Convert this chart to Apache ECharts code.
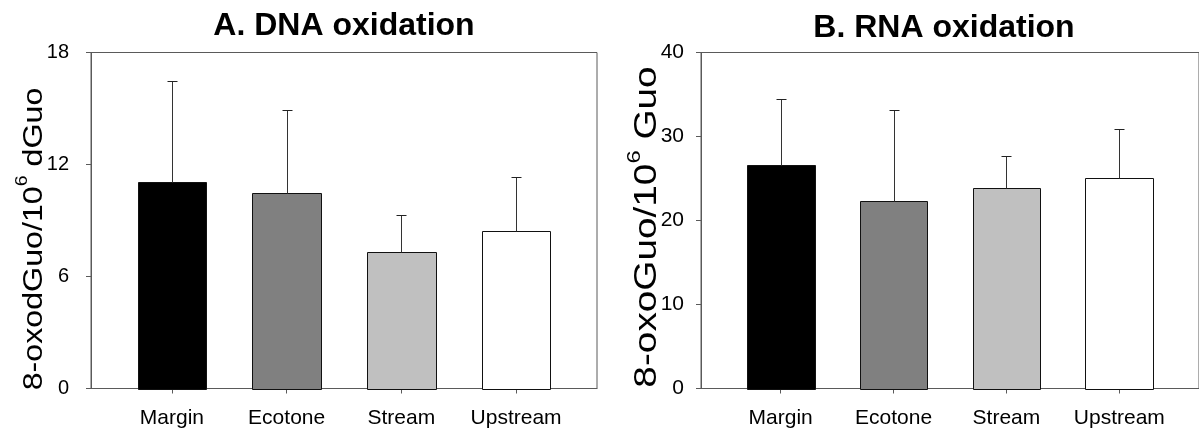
<!DOCTYPE html>
<html>
<head>
<meta charset="utf-8">
<script src="https://cdn.jsdelivr.net/npm/echarts@6/dist/echarts.min.js"></script>
<style>
  html, body { margin: 0; padding: 0; background: #fff; }
  #chart { width: 1199px; height: 434px; }
</style>
</head>
<body>
<div id="chart"></div>
<script>
// Sampling sites
const categories = ['Margin', 'Ecotone', 'Stream', 'Upstream'];

// A. DNA oxidation: mean and upper error (8-oxodGuo per 10^6 dGuo)
const dnaMean = [11.06, 10.5, 7.3, 8.45];
const dnaError = [5.42, 4.41, 2.0, 2.88];

// B. RNA oxidation: mean and upper error (8-oxoGuo per 10^6 Guo)
const rnaMean = [26.57, 22.28, 23.83, 25.06];
const rnaError = [7.85, 10.82, 3.81, 5.79];

// y-axis ranges
const dnaTicks = { min: 0, max: 18, interval: 6 };
const rnaTicks = { min: 0, max: 40, interval: 10 };

const barFills = ['#000000', '#808080', '#c0c0c0', '#ffffff'];
const FONT = "'Liberation Sans', Arial, Helvetica, sans-serif";
const axisGray = '#5a5a5a';

function seriesData(means, errors) {
  return means.map((m, i) => [i, m, m + errors[i]]);
}

const crisp = v => Math.round(v) + 0.5;

function renderBar(params, api) {
  const i = api.value(0);
  const mean = api.value(1);
  const upper = api.value(2);
  const base = api.coord([i, 0]);
  const top = api.coord([i, mean]);
  const err = api.coord([i, upper]);
  const w = api.size([0.6, 0])[0];
  const xl = crisp(base[0] - w / 2);
  const xr = crisp(base[0] + w / 2);
  const yt = crisp(top[1]);
  const yb = crisp(base[1]);
  const xc = crisp(base[0]);
  const ye = crisp(err[1]);
  const cap = 5;
  return {
    type: 'group',
    children: [
      {
        type: 'rect',
        shape: { x: xl, y: yt, width: xr - xl, height: yb - yt },
        style: { fill: barFills[i], stroke: '#111', lineWidth: 1 }
      },
      {
        type: 'line',
        shape: { x1: xc, y1: yt, x2: xc, y2: ye },
        style: { stroke: '#333', lineWidth: 1 }
      },
      {
        type: 'line',
        shape: { x1: xc - cap, y1: ye, x2: xc + cap, y2: ye },
        style: { stroke: '#222', lineWidth: 1 }
      }
    ]
  };
}

function xAxisFor(gridIndex) {
  return {
    type: 'value',
    gridIndex: gridIndex,
    min: -0.7056,
    max: 3.7056,
    splitLine: { show: false },
    axisLine: { show: true, onZero: false, lineStyle: { color: axisGray, width: 1 } },
    axisTick: { show: true, length: 5, customValues: [0, 1, 2, 3], lineStyle: { color: axisGray } },
    axisLabel: {
      customValues: [0, 1, 2, 3],
      formatter: v => categories[Math.round(v)],
      color: '#000',
      fontFamily: FONT,
      fontSize: 21,
      margin: 19
    }
  };
}

function yAxisFor(gridIndex, ticks, labelMargin, fontSize) {
  return {
    type: 'value',
    gridIndex: gridIndex,
    min: ticks.min,
    max: ticks.max,
    interval: ticks.interval,
    splitLine: { show: false },
    axisLine: { show: true, onZero: false, lineStyle: { color: axisGray, width: 1 } },
    axisTick: { show: true, length: 5, lineStyle: { color: axisGray } },
    axisLabel: {
      color: '#000',
      fontFamily: FONT,
      fontSize: fontSize,
      margin: labelMargin
    }
  };
}

// Vertical axis title with a superscript exponent, stretched slightly along its length
function axisNameText(x, y, main, tail, size, stretch) {
  return {
    type: 'text',
    x: x,
    y: y,
    rotation: Math.PI / 2,
    scaleX: stretch,
    style: {
      text: '{m|' + main + '}{s|6}{m|' + tail + '}',
      align: 'center',
      verticalAlign: 'middle',
      rich: {
        m: { fontFamily: FONT, fontSize: size, fill: '#000', lineHeight: size + 6, verticalAlign: 'bottom' },
        s: { fontFamily: FONT, fontSize: Math.round(size * 0.62), fill: '#000', lineHeight: size + 6, verticalAlign: 'top' }
      }
    }
  };
}

const chart = echarts.init(document.getElementById('chart'), null, { renderer: 'canvas' });

chart.setOption({
  animation: false,
  backgroundColor: '#fff',
  title: [
    {
      text: 'A. DNA oxidation',
      left: 344,
      top: 10,
      padding: 0,
      textAlign: 'center',
      textStyle: { fontFamily: FONT, fontWeight: 'bold', fontSize: 32, color: '#000' }
    },
    {
      text: 'B. RNA oxidation',
      left: 944,
      top: 12,
      padding: 0,
      textAlign: 'center',
      textStyle: { fontFamily: FONT, fontWeight: 'bold', fontSize: 32, color: '#000' }
    }
  ],
  grid: [
    { left: 91, right: 602, top: 52.5, bottom: 45.5, show: true, borderColor: axisGray, borderWidth: 1, backgroundColor: 'transparent' },
    { left: 701, right: -9, top: 52.5, bottom: 45.5, show: true, borderColor: axisGray, borderWidth: 1, backgroundColor: 'transparent' }
  ],
  xAxis: [xAxisFor(0), xAxisFor(1)],
  yAxis: [yAxisFor(0, dnaTicks, 22, 20), yAxisFor(1, rnaTicks, 17, 21)],
  graphic: [
    axisNameText(31, 239, '8-oxodGuo/10', ' dGuo', 28, 1.15),
    axisNameText(644, 227, '8-oxoGuo/10', ' Guo', 31, 1.25)
  ],
  series: [
    {
      type: 'custom',
      xAxisIndex: 0,
      yAxisIndex: 0,
      renderItem: renderBar,
      data: seriesData(dnaMean, dnaError),
      clip: false
    },
    {
      type: 'custom',
      xAxisIndex: 1,
      yAxisIndex: 1,
      renderItem: renderBar,
      data: seriesData(rnaMean, rnaError),
      clip: false
    }
  ]
});
</script>
</body>
</html>
